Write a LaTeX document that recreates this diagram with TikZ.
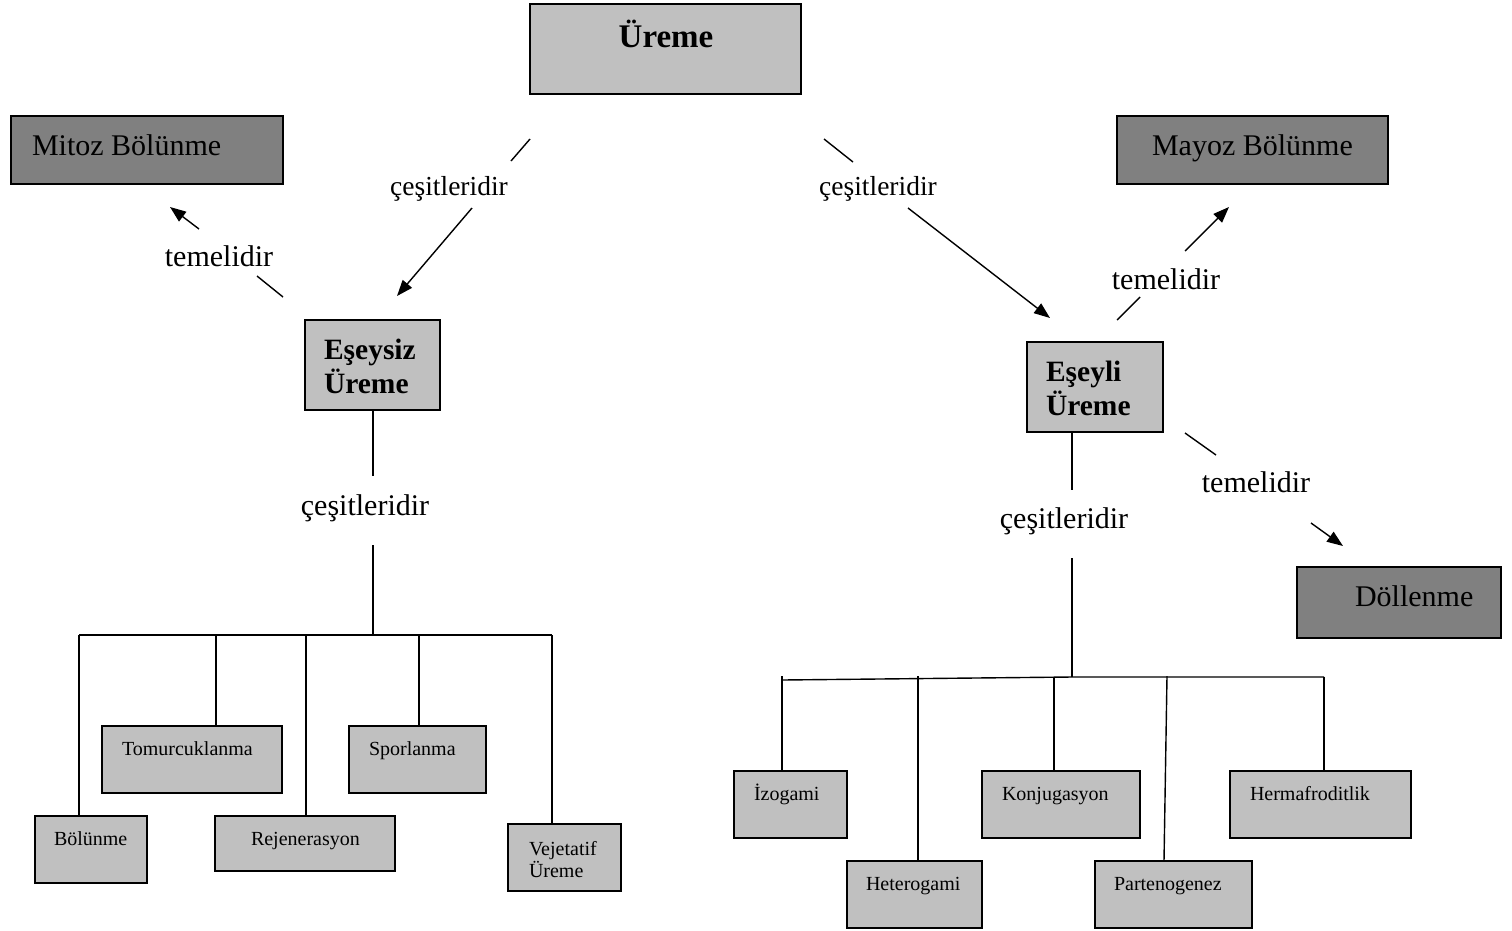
\documentclass[tikz,border=0pt]{standalone}
\usepackage{fontspec}
\setmainfont{Liberation Serif}
\usetikzlibrary{arrows.meta}
\definecolor{boxlight}{HTML}{C0C0C0}
\definecolor{boxdark}{HTML}{808080}

\begin{document}
\begin{tikzpicture}[x=1pt,y=-1pt,
  box/.style={draw=black, line width=1.8pt, inner sep=0pt, outer sep=0pt, anchor=north west},
  lightbox/.style={box, fill=boxlight},
  darkbox/.style={box, fill=boxdark},
  txt/.style={inner sep=0pt, outer sep=0pt, anchor=base west},
  leaftxt/.style={txt, font=\fontsize{20}{22}\selectfont, align=left},
  headtxt/.style={txt, font=\fontsize{29.5}{34}\selectfont\bfseries, align=left},
  titletxt/.style={txt, font=\fontsize{30}{35}\selectfont},
  rel/.style={inner sep=0pt, anchor=base, font=\fontsize{30}{35}\selectfont},
  relsmall/.style={inner sep=0pt, anchor=base, font=\fontsize{27.5}{32}\selectfont},
  link/.style={line width=1.4pt},
  arrowlink/.style={link, -{Triangle[length=16pt,width=12pt]}},
  branch/.style={line width=1.4pt},
]
\useasboundingbox (0,0) rectangle (1512,930);

% ---- top level ----
\node[lightbox, minimum width=271pt, minimum height=90pt] (ureme) at (530,4) {};
\node[txt, anchor=base, font=\fontsize{33}{38}\selectfont\bfseries] (uremeT) at (666,47) {Üreme};

% ---- outer concepts ----
\node[darkbox, minimum width=272pt, minimum height=68pt] (mitoz) at (11,116) {};
\node[titletxt] (mitozT) at (32,155) {Mitoz Bölünme};
\node[darkbox, minimum width=271pt, minimum height=68pt] (mayoz) at (1117,116) {};
\node[titletxt] (mayozT) at (1152,155) {Mayoz Bölünme};
\node[darkbox, minimum width=204pt, minimum height=71pt] (dol) at (1297,567) {};
\node[titletxt] (dolT) at (1355,606) {Döllenme};

% ---- the two kinds of reproduction (base = last line) ----
\node[lightbox, minimum width=135pt, minimum height=90pt] (esz) at (305,320) {};
\node[headtxt] (eszT) at (324,393) {Eşeysiz\\Üreme};
\node[lightbox, minimum width=136pt, minimum height=90pt] (esl) at (1027,342) {};
\node[headtxt] (eslT) at (1046,415) {Eşeyli\\Üreme};

% ---- relation labels ----
\node[relsmall] (r1) at (449,195) {çeşitleridir};
\node[relsmall] (r2) at (878,195) {çeşitleridir};
\node[rel] (r3) at (219,266) {temelidir};
\node[rel] (r4) at (1166,289) {temelidir};
\node[rel] (r5) at (1256,492) {temelidir};
\node[rel] (r6) at (365,515) {çeşitleridir};
\node[rel] (r7) at (1064,528) {çeşitleridir};

% ---- connector end points ----
\coordinate (a1) at (530,139);  \coordinate (a2) at (511,161);
\coordinate (a3) at (472,208);  \coordinate (a4) at (397,296);
\coordinate (b1) at (824,139);  \coordinate (b2) at (853,162);
\coordinate (b3) at (908,208);  \coordinate (b4) at (1050,318);
\coordinate (c1) at (283,297);  \coordinate (c2) at (257,276);
\coordinate (c3) at (199,229);  \coordinate (c4) at (170,207);
\coordinate (d1) at (1117,320); \coordinate (d2) at (1140,297);
\coordinate (d3) at (1185,251); \coordinate (d4) at (1229,207);
\coordinate (e1) at (1185,433); \coordinate (e2) at (1216,455);
\coordinate (e3) at (1311,523); \coordinate (e4) at (1343,546);

\draw[link] (a1) -- (a2);  \draw[arrowlink] (a3) -- (a4);
\draw[link] (b1) -- (b2);  \draw[arrowlink] (b3) -- (b4);
\draw[link] (c1) -- (c2);  \draw[arrowlink] (c3) -- (c4);
\draw[link] (d1) -- (d2);  \draw[arrowlink] (d3) -- (d4);
\draw[link] (e1) -- (e2);  \draw[arrowlink] (e3) -- (e4);

% ---- asexual branches ----
\node[lightbox, minimum width=112pt, minimum height=67pt] (bol) at (35,816) {};
\node[leaftxt] (bolT) at (54,845) {Bölünme};
\node[lightbox, minimum width=180pt, minimum height=67pt] (tom) at (102,726) {};
\node[leaftxt] (tomT) at (122,755) {Tomurcuklanma};
\node[lightbox, minimum width=180pt, minimum height=55pt] (rej) at (215,816) {};
\node[leaftxt] (rejT) at (251,845) {Rejenerasyon};
\node[lightbox, minimum width=137pt, minimum height=67pt] (spo) at (349,726) {};
\node[leaftxt] (spoT) at (369,755) {Sporlanma};
\node[lightbox, minimum width=113pt, minimum height=67pt] (vej) at (508,824) {};
\node[leaftxt] (vejT) at (529,877) {Vejetatif\\Üreme};

\coordinate (lt1) at (373,476);
\coordinate (lt2) at (373,545);
\coordinate (lbus) at (373,635);
\coordinate (lb1) at (79,635);
\coordinate (lb2) at (216,635);
\coordinate (lb3) at (306,635);
\coordinate (lb4) at (419,635);
\coordinate (lb5) at (552,635);

\draw[branch] (esz.south -| lt1) -- (lt1);
\draw[branch] (lt2) -- (lbus);
\draw[branch] (lb1) -- (lb5);
\draw[branch] (lb1) -- (lb1 |- bol.north);
\draw[branch] (lb2) -- (lb2 |- tom.north);
\draw[branch] (lb3) -- (lb3 |- rej.north);
\draw[branch] (lb4) -- (lb4 |- spo.north);
\draw[branch] (lb5) -- (lb5 |- vej.north);

% ---- sexual branches ----
\node[lightbox, minimum width=113pt, minimum height=67pt] (izo) at (734,771) {};
\node[leaftxt] (izoT) at (754,800) {İzogami};
\node[lightbox, minimum width=135pt, minimum height=67pt] (het) at (847,861) {};
\node[leaftxt] (hetT) at (866,890) {Heterogami};
\node[lightbox, minimum width=158pt, minimum height=67pt] (kon) at (982,771) {};
\node[leaftxt] (konT) at (1002,800) {Konjugasyon};
\node[lightbox, minimum width=157pt, minimum height=67pt] (par) at (1095,861) {};
\node[leaftxt] (parT) at (1114,890) {Partenogenez};
\node[lightbox, minimum width=181pt, minimum height=67pt] (her) at (1230,771) {};
\node[leaftxt] (herT) at (1250,800) {Hermafroditlik};

\coordinate (rt1) at (1072,490);
\coordinate (rt2) at (1072,558);
\coordinate (rbus) at (1072,677);
\coordinate (rb1) at (782,680);
\coordinate (rb1t) at (782,676);
\coordinate (rb2) at (918,676);
\coordinate (rb3) at (1054,678);
\coordinate (rb4) at (1167,676);
\coordinate (rb4b) at (1164,861);
\coordinate (rb5) at (1324,677);

\draw[branch] (esl.south -| rt1) -- (rt1);
\draw[branch] (rt2) -- (rbus);
\draw[branch] (rb1) -- (rbus) -- (rb5);
\draw[branch] (rb1t) -- (rb1t |- izo.north);
\draw[branch] (rb2) -- (rb2 |- het.north);
\draw[branch] (rb3) -- (rb3 |- kon.north);
\draw[branch] (rb4) -- (rb4b);
\draw[branch] (rb5) -- (rb5 |- her.north);
\end{tikzpicture}
\end{document}
